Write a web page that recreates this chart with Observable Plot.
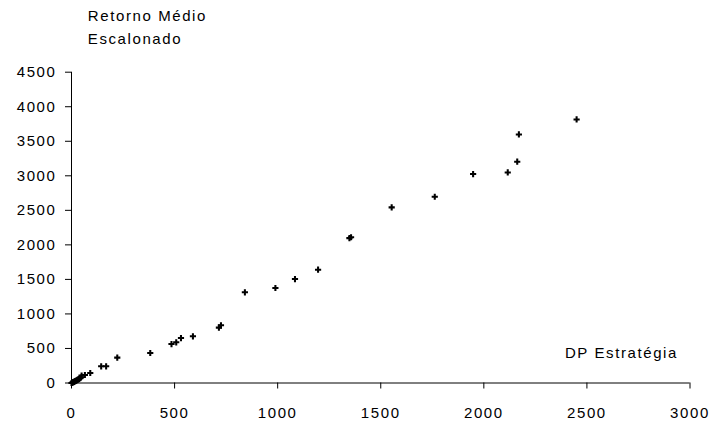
<!DOCTYPE html>
<html>
<head>
<meta charset="utf-8">
<script src="https://cdn.jsdelivr.net/npm/d3@7"></script>
<script src="https://cdn.jsdelivr.net/npm/@observablehq/plot@0.6"></script>
<style>
  html, body { margin: 0; padding: 0; background: #fff; }
</style>
</head>
<body>
<div id="chart"></div>
<script>
// Risk (DP Estratégia) and scaled mean return (Retorno Médio Escalonado)
const dpEstrategia = [0, 3, 6, 9, 12, 15, 18, 21, 25, 29, 33, 37, 42, 46, 49, 65, 91,
  144, 168, 222, 382, 485, 508, 531, 589, 715, 725, 841, 989, 1084, 1196,
  1348, 1356, 1553, 1762, 1948, 2116, 2162, 2170, 2450];
const retornoMedio = [0, 4, 8, 13, 17, 22, 27, 32, 38, 45, 53, 60, 70, 80, 107, 116, 145,
  242, 242, 367, 434, 564, 589, 651, 676, 802, 835, 1313, 1375, 1505, 1641,
  2098, 2110, 2543, 2697, 3025, 3049, 3204, 3599, 3816];
const xTicks = [0, 500, 1000, 1500, 2000, 2500, 3000];
const yTicks = [0, 500, 1000, 1500, 2000, 2500, 3000, 3500, 4000, 4500];
const yTitleLines = ["Retorno Médio", "Escalonado"];
const xTitle = "DP Estratégia";

const data = dpEstrategia.map((x, i) => ({x, y: retornoMedio[i]}));

const chart = Plot.plot({
  width: 712,
  height: 428,
  marginLeft: 71,
  marginRight: 22.5,
  marginTop: 71.7,
  marginBottom: 45.5,
  style: {
    fontFamily: "'Liberation Sans', Arial, sans-serif",
    fontSize: "15px",
    letterSpacing: "1.6px",
    color: "#000",
    background: "#fff"
  },
  x: {domain: [0, 3000]},
  y: {domain: [0, 4500]},
  marks: [
    Plot.ruleX([0], {stroke: "#000"}),
    Plot.ruleY([0], {stroke: "#000"}),
    Plot.axisX({ticks: xTicks, tickSize: 6, tickPadding: 18, label: null, tickFormat: d => `${d}`, stroke: "#000"}),
    Plot.axisY({ticks: yTicks, tickSize: 6, tickPadding: 9, label: null, tickFormat: d => `${d}`, stroke: "#000"}),
    Plot.dot(data, {x: "x", y: "y", symbol: "cross", r: 2.6, fill: "#000", stroke: null}),
    Plot.text([yTitleLines[0]], {frameAnchor: "top-left", textAnchor: "start", lineAnchor: "top", dx: 16.3, dy: -62, fill: "#000"}),
    Plot.text([yTitleLines[1]], {frameAnchor: "top-left", textAnchor: "start", lineAnchor: "top", dx: 16.3, dy: -38.5, fill: "#000"}),
    Plot.text([xTitle], {frameAnchor: "bottom-right", textAnchor: "end", lineAnchor: "top", dx: -12, dy: -35.2, fill: "#000"})
  ]
});
document.getElementById("chart").appendChild(chart);
</script>
</body>
</html>
